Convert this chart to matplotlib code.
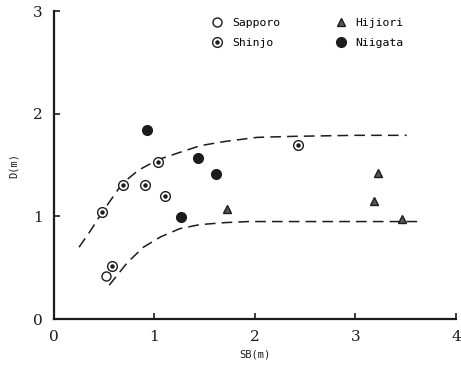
import matplotlib
matplotlib.use("Agg")
import matplotlib.pyplot as plt

# SB (m) vs D (m)
sapporo_sb = [0.52]
sapporo_d = [0.42]
shinjo_sb = [0.58, 0.48, 0.69, 0.91, 1.11, 1.04, 2.43]
shinjo_d = [0.52, 1.04, 1.31, 1.31, 1.20, 1.53, 1.70]
hijiori_sb = [1.72, 3.18, 3.22, 3.46]
hijiori_d = [1.07, 1.15, 1.42, 0.97]
niigata_sb = [0.93, 1.43, 1.61, 1.26]
niigata_d = [1.84, 1.57, 1.41, 0.99]

# dashed envelope curves, traced point by point
upper_sb = [0.25, 0.37, 0.48, 0.58, 0.68, 0.84, 1.03, 1.24, 1.46, 1.70, 2.02, 2.38, 3.00, 3.51]
upper_d = [0.70, 0.87, 1.04, 1.18, 1.32, 1.45, 1.55, 1.62, 1.69, 1.73, 1.77, 1.78, 1.79, 1.79]
lower_sb = [0.55, 0.64, 0.73, 0.89, 1.06, 1.25, 1.45, 1.71, 1.94, 2.50, 3.00, 3.67]
lower_d = [0.33, 0.44, 0.55, 0.70, 0.80, 0.88, 0.92, 0.94, 0.95, 0.95, 0.95, 0.95]

x_ticks = [0, 1, 2, 3, 4]
y_ticks = [0, 1, 2, 3]

INK = "#1c1c1c"
MONO = "DejaVu Sans Mono"
SERIF = "DejaVu Serif"

fig = plt.figure(figsize=(4.61, 3.71), dpi=100)
ax = fig.add_axes([0.117, 0.140, 0.872, 0.830])

ax.plot(upper_sb, upper_d, ls=(0, (7, 4)), color=INK, lw=1.1)
ax.plot(lower_sb, lower_d, ls=(0, (7, 4)), color=INK, lw=1.1)

h_sap, = ax.plot(sapporo_sb, sapporo_d, "o", ms=6.5, mfc="white", mec=INK, mew=1.0, ls="none")
h_shi_o, = ax.plot(shinjo_sb, shinjo_d, "o", ms=7, mfc="white", mec=INK, mew=1.0, ls="none")
h_shi_d, = ax.plot(shinjo_sb, shinjo_d, "o", ms=2.2, mfc=INK, mec=INK, ls="none")
h_hij, = ax.plot(hijiori_sb, hijiori_d, "^", ms=6, mfc="#555555", mec=INK, mew=1.0, ls="none")
h_nii, = ax.plot(niigata_sb, niigata_d, "o", ms=7, mfc=INK, mec=INK, ls="none")

ax.legend([h_sap, (h_shi_o, h_shi_d), h_hij, h_nii],
          ["Sapporo", "Shinjo", "Hijiori", "Niigata"],
          ncol=2, frameon=False, loc="upper left", bbox_to_anchor=(0.375, 1.0),
          prop={"family": MONO, "size": 8.2}, handlelength=1.0, handletextpad=0.8,
          columnspacing=4.8, labelspacing=0.9, borderaxespad=0.2)

ax.set_xlim(0, 4)
ax.set_ylim(0, 3)
ax.set_xticks(x_ticks)
ax.set_yticks(y_ticks)
ax.set_xticklabels([str(t) for t in x_ticks], family=SERIF, fontsize=11, color=INK)
ax.set_yticklabels([str(t) for t in y_ticks], family=SERIF, fontsize=11, color=INK)
ax.tick_params(direction="in", length=4, width=1.2, color=INK, pad=8)

for side in ["top", "right"]:
    ax.spines[side].set_visible(False)
for side in ["left", "bottom"]:
    ax.spines[side].set_linewidth(1.6)
    ax.spines[side].set_color(INK)

ax.set_xlabel("SB(m)", family=MONO, fontsize=7.5, color=INK, labelpad=4)
ax.set_ylabel("D(m)", family=MONO, fontsize=7.5, color=INK, labelpad=10)

fig.savefig("out.png", dpi=100)
